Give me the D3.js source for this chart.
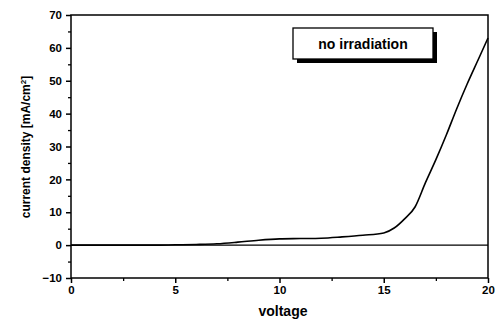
<!DOCTYPE html>
<html>
<head>
<meta charset="utf-8">
<script src="https://cdn.jsdelivr.net/npm/d3@7"></script>
<style>
  body { margin: 0; background: #fff; }
  text { font-family: "Liberation Sans", Arial, sans-serif; font-weight: bold; }
</style>
</head>
<body>
<svg id="chart"></svg>
<script>
// curve
const voltage = [0, 1, 2, 3, 4, 5, 6, 7, 8, 9, 10, 11, 12, 13, 14, 15, 15.5, 16, 16.5, 17, 17.5, 18, 18.5, 19, 19.5, 20]
const current = [0, 0, 0, 0, 0, 0.1, 0.2, 0.4, 0.9, 1.5, 1.9, 2.0, 2.1, 2.5, 3.0, 3.7, 5.2, 8.0, 11.6, 19, 26, 33.5, 41.5, 49, 56, 63]
const xTicks = [0, 5, 10, 15, 20]
const yTicks = [-10, 0, 10, 20, 30, 40, 50, 60, 70]
const legendLabel = "no irradiation"

const width = 495, height = 322
const margin = { top: 15, right: 7, bottom: 44, left: 71 }

const data = voltage.map((v, i) => ({ v, c: current[i] }))

const x = d3.scaleLinear()
  .domain([0, 20])
  .range([margin.left, width - margin.right])

const y = d3.scaleLinear()
  .domain([-10, 70])
  .range([height - margin.bottom, margin.top])

const svg = d3.select("#chart")
  .attr("width", width)
  .attr("height", height)
  .attr("viewBox", [0, 0, width, height])

// frame
svg.append("rect")
  .attr("x", x(0)).attr("y", y(70))
  .attr("width", x(20) - x(0)).attr("height", y(-10) - y(70))
  .attr("fill", "none").attr("stroke", "#000").attr("stroke-width", 1.5)

// zero line
svg.append("line")
  .attr("x1", x(0)).attr("x2", x(20))
  .attr("y1", y(0)).attr("y2", y(0))
  .attr("stroke", "#000").attr("stroke-width", 1.3)

// minor ticks
svg.append("g")
  .attr("transform", `translate(0,${y(-10)})`)
  .call(d3.axisBottom(x).tickValues(d3.range(2.5, 20, 5)).tickSize(3).tickFormat(""))
  .call(g => g.select(".domain").remove())
  .call(g => g.selectAll("line").attr("stroke-width", 1.3))

svg.append("g")
  .attr("transform", `translate(${x(0)},0)`)
  .call(d3.axisLeft(y).tickValues(d3.range(-5, 70, 10)).tickSize(3).tickFormat(""))
  .call(g => g.select(".domain").remove())
  .call(g => g.selectAll("line").attr("stroke-width", 1.3))

// major axes
svg.append("g")
  .attr("transform", `translate(0,${y(-10)})`)
  .call(d3.axisBottom(x).tickValues(xTicks).tickSize(5).tickPadding(3).tickFormat(d3.format("d")))
  .call(g => g.select(".domain").remove())
  .call(g => g.selectAll("line").attr("stroke-width", 1.5))
  .call(g => g.selectAll("text").attr("font-size", 11.5).attr("font-family", "Liberation Sans, Arial, sans-serif").attr("font-weight", "bold"))

svg.append("g")
  .attr("transform", `translate(${x(0)},0)`)
  .call(d3.axisLeft(y).tickValues(yTicks).tickSize(5).tickPadding(4).tickFormat(d3.format("d")))
  .call(g => g.select(".domain").remove())
  .call(g => g.selectAll("line").attr("stroke-width", 1.5))
  .call(g => g.selectAll("text").attr("font-size", 11.5).attr("font-family", "Liberation Sans, Arial, sans-serif").attr("font-weight", "bold"))

// axis titles
svg.append("text")
  .attr("x", 283)
  .attr("y", 316)
  .attr("text-anchor", "middle")
  .attr("font-size", 14)
  .text("voltage")

const yt = svg.append("text")
  .attr("transform", `translate(30,147) rotate(-90)`)
  .attr("text-anchor", "middle")
  .attr("font-size", 12)
yt.append("tspan").text("current density [mA/cm")
yt.append("tspan").attr("dy", -4).attr("font-size", 8).text("2")
yt.append("tspan").attr("dy", 4).text("]")

// curve
svg.append("path")
  .attr("fill", "none")
  .attr("stroke", "#000")
  .attr("stroke-width", 1.6)
  .attr("d", d3.line().x(d => x(d.v)).y(d => y(d.c)).curve(d3.curveMonotoneX)(data))

// legend box with shadow
const lg = svg.append("g")
lg.append("rect")
  .attr("x", 297).attr("y", 32).attr("width", 140).attr("height", 31)
  .attr("fill", "#000")
lg.append("rect")
  .attr("x", 293).attr("y", 28).attr("width", 140).attr("height", 31)
  .attr("fill", "#fff").attr("stroke", "#000").attr("stroke-width", 1.3)
lg.append("text")
  .attr("x", 363).attr("y", 49)
  .attr("text-anchor", "middle")
  .attr("font-size", 14)
  .text(legendLabel)
</script>
</body>
</html>
